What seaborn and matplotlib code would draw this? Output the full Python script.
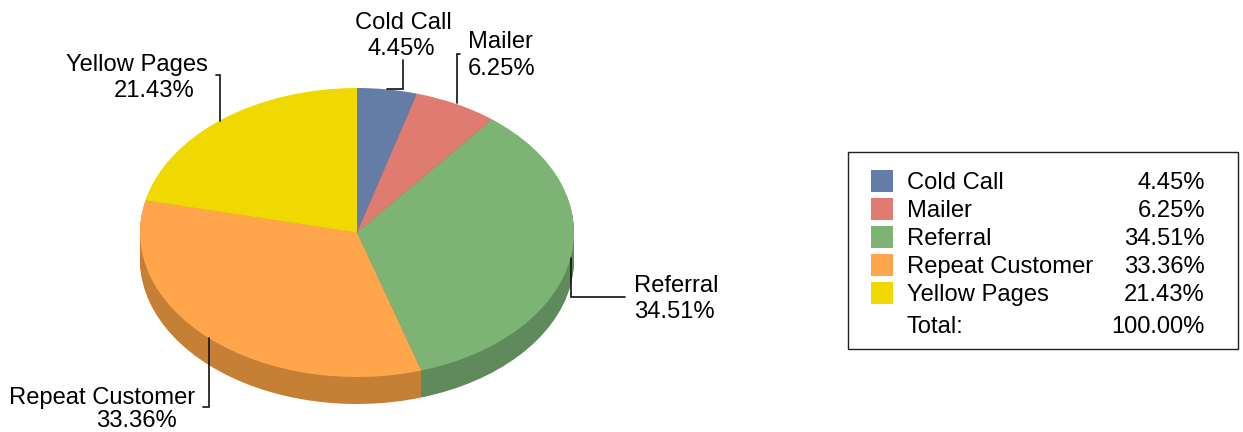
import numpy as np
import seaborn as sns
import matplotlib.pyplot as plt
from matplotlib.patches import Rectangle

# Chart data
categories = ['Cold Call', 'Mailer', 'Referral', 'Repeat Customer', 'Yellow Pages']
shares = [4.45, 6.25, 34.51, 33.36, 21.43]
total_label = 'Total:'
total_value = '100.00%'

top_colors = ['#647DA7', '#E07B72', '#7DB375', '#FFA64D', '#F0D900']
side_colors = ['#4E6285', '#B2625B', '#5F8A5C', '#C68035', '#BFAD00']

sns.set_theme(style="white")
plt.rcParams['font.family'] = ['Liberation Sans', 'DejaVu Sans']
font_param = {'fontsize': 17.1, 'color': '#000000'}

W, H = 1243, 432
fig = plt.figure(figsize=(W / 100, H / 100), dpi=100)

# Pie axes, squashed so the circle turns into the tilted ellipse
left, right, top, rim, depth = 140, 574, 88, 377, 27
ry = (rim - top) / 2
pie_ax = fig.add_axes([left / W, (H - rim - depth) / H,
                       (right - left) / W, (rim + depth - top) / H])

# Stack of darker pies makes the side wall, the top face goes last
for d in range(depth, 0, -1):
    pie_ax.pie(shares, colors=side_colors, startangle=90, counterclock=False,
               center=(0, -d / ry), wedgeprops={'linewidth': 0})
pie_ax.pie(shares, colors=top_colors, startangle=90, counterclock=False,
           wedgeprops={'linewidth': 0})
pie_ax.set_aspect('auto')
pie_ax.set_xlim(-1, 1)
pie_ax.set_ylim(-1 - depth / ry, 1)

# Overlay in pixel coordinates for labels, leaders and the legend box
ax = fig.add_axes([0, 0, 1, 1], facecolor='none')
ax.set_xlim(0, W)
ax.set_ylim(H, 0)
ax.axis('off')


def pct(i):
    return '%.2f%%' % shares[i]


def label(x, y, s, ha='left'):
    ax.text(x, y + 2, s, ha=ha, va='center', **font_param)


# Slice labels
label(403, 21, categories[0], ha='center')
label(401, 47, pct(0), ha='center')
label(468, 40, categories[1])
label(468, 67, pct(1))
label(634, 284, categories[2])
label(634, 310, pct(2))
label(195, 396, categories[3], ha='right')
label(177, 419, pct(3), ha='right')
label(208, 63, categories[4], ha='right')
label(195, 89, pct(4), ha='right')

# Leader lines
leaders = [([403, 403, 387], [60, 89, 89]),
           ([457, 457, 460], [103, 54, 54]),
           ([571, 571, 625], [258, 297, 297]),
           ([209, 209, 203], [338, 407, 407]),
           ([220, 220, 216], [121, 75, 75])]
for xs, ys in leaders:
    ax.plot(xs, ys, color='#111111', lw=1.2, solid_joinstyle='miter')

# Legend box
ax.add_patch(Rectangle((848.5, 151.5), 390, 197, fill=False,
                       edgecolor='#222222', lw=1))
row_y = [181, 209, 237, 265, 293]
for i, y in enumerate(row_y):
    ax.add_patch(Rectangle((871, y - 11), 22, 22, color=top_colors[i], lw=0))
    label(907, y, categories[i])
    label(1205, y, pct(i), ha='right')
label(907, 325, total_label)
label(1205, 325, total_value, ha='right')

fig.savefig('out.png', dpi=100)
